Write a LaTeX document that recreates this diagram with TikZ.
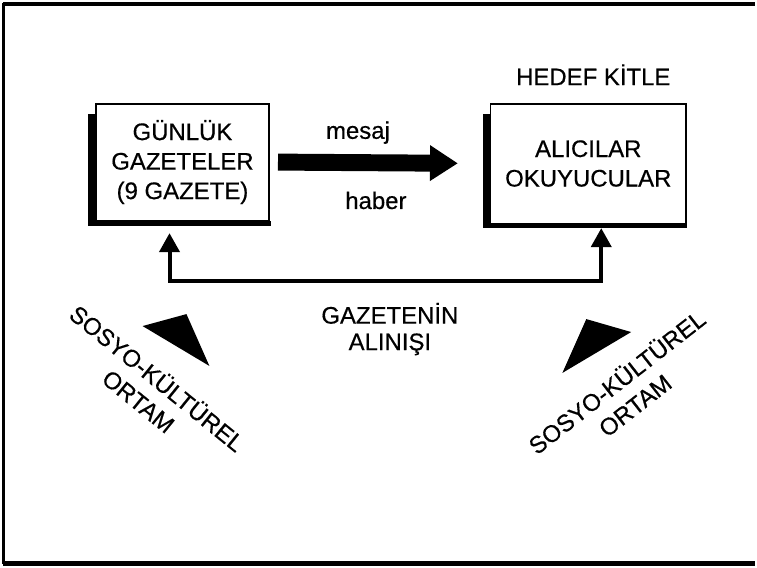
\documentclass[tikz,border=0pt]{standalone}
\usepackage{fontspec}
\setmainfont{Liberation Sans}
\newfontfamily\kalin[FakeBold=0.5]{Liberation Sans}
\usepackage{tikz}
\usetikzlibrary{arrows.meta}

\begin{document}
\begin{tikzpicture}[x=0.5pt,y=-0.5pt,
        yazi/.style={font=\kalin\fontsize{12}{14.8}\selectfont, align=center, inner sep=0pt},
        kutu/.style={draw, line width=0.8pt, yazi},
        geri/.style={line width=2pt, {Triangle[length=9.5pt,width=10pt]}-{Triangle[length=9.5pt,width=10pt]}}]
        \fill[white] (0,0) rectangle (757,569);
        \draw[line width=2pt] (757,4) -- (3,4);
        \draw[line width=1.5pt] (4,3) -- (4,566);
        \draw[line width=2.2pt] (3,565) -- (757,565);

        \node[kutu, minimum width=87pt, minimum height=58.5pt] (gunluk) at (183,162.5) {GÜNLÜK\\GAZETELER\\(9 GAZETE)};
        \node[kutu, minimum width=98pt, minimum height=60pt] (alici) at (590,164) {ALICILAR\\OKUYUCULAR};
        \node[yazi] (hedef) at (595,75) {HEDEF KİTLE};

        \fill ([shift={(-7,0)}]gunluk.south west) rectangle ([shift={(0,11)}]gunluk.north west);
        \fill ([shift={(-7,0)}]gunluk.south west) rectangle ([shift={(1,5)}]gunluk.south east);
        \fill ([shift={(-7,0)}]alici.south west) rectangle ([shift={(1,11)}]alici.north west);
        \fill ([shift={(-7,0)}]alici.south west) rectangle ([shift={(0,3.5)}]alici.south east);

        \draw[line width=8.5pt, -{Triangle[length=14pt,width=17pt]}, shorten <=4pt, shorten >=16pt] (gunluk.east) -- (alici.west);
        \node[yazi] (mesaj) at (359,133) {mesaj};
        \node[yazi] (haber) at (377,201) {haber};

        \coordinate (altsol) at (170,282);
        \coordinate (altsag) at (603,282);
        \draw[geri, shorten <=6pt, shorten >=2pt] (gunluk.south -| altsol) -- (altsol) -- (altsag) -- (alici.south -| altsag);
        \node[yazi] (alinis) at (391,330) {GAZETENİN\\[-1.5pt]ALINIŞI};

        \fill (143,327) -- (187,315) -- (210,367) -- cycle;
        \fill (588,320) -- (633,333) -- (564,374) -- cycle;
        \node[yazi, rotate=-39] (ortamsol) at (149,390) {SOSYO-KÜLTÜREL\\ORTAM};
        \node[yazi, rotate=38] (ortamsag) at (627,394) {SOSYO-KÜLTÜREL\\ORTAM};
    \end{tikzpicture}
\end{document}
